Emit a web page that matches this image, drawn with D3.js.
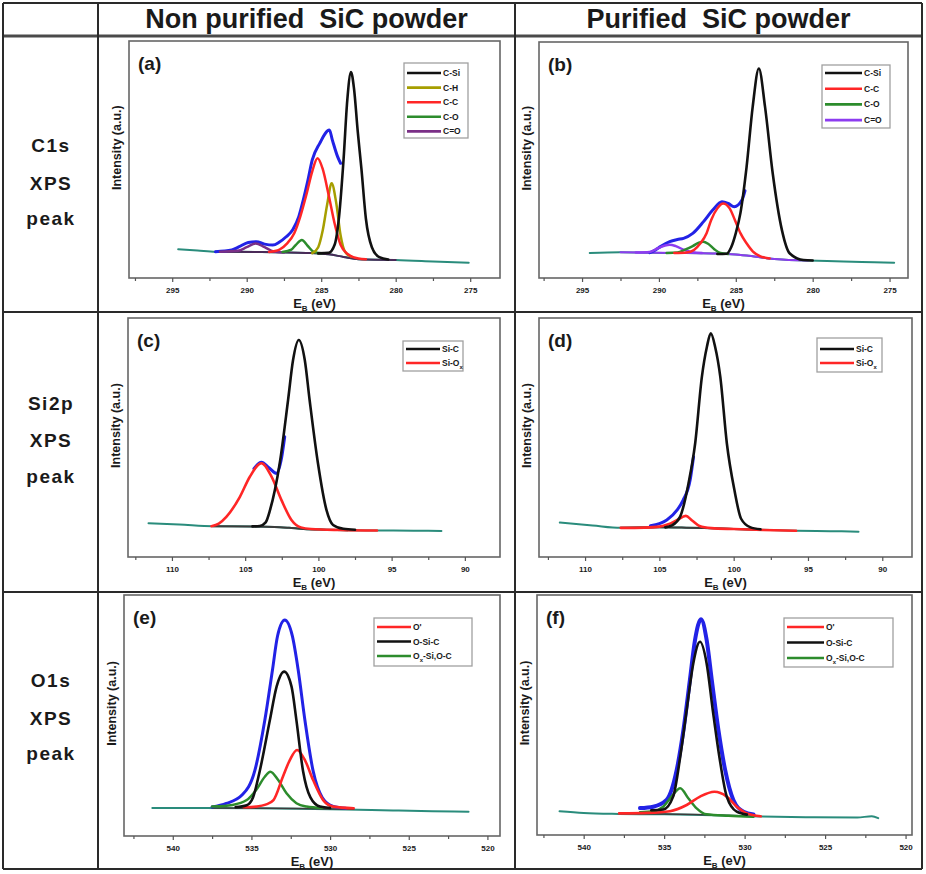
<!DOCTYPE html>
<html><head><meta charset="utf-8">
<script src="https://cdn.jsdelivr.net/npm/d3@7"></script>
<style>
body{margin:0;background:#fff}
svg{display:block}
text{font-family:Arial,"Liberation Sans",sans-serif;font-weight:bold;fill:#1a1a1a}
</style>
</head><body>
<svg id="chart" width="926" height="874"></svg>
<script>
// ---------------- DATA ----------------
const columnTitles = ["Non purified  SiC powder", "Purified  SiC powder"];
const rowTitles = [["C1s","XPS","peak"],["Si2p","XPS","peak"],["O1s","XPS","peak"]];
const panelLabels = ["(a)","(b)","(c)","(d)","(e)","(f)"];
const yAxisTitle = "Intensity (a.u.)";
const c1sTicks = [295,290,285,280,275];
const si2pTicks = [110,105,100,95,90];
const o1sTicks = [540,535,530,525,520];
const c1sLegendA = ["C-Si","C-H","C-C","C-O","C=O"];
const c1sLegendB = ["C-Si","C-C","C-O","C=O"];
const si2pLegend = ["Si-C","Si-O_x"];
const o1sLegend = ["O'","O-Si-C","O_x-Si,O-C"];

// [binding energy (eV), intensity (a.u., 0-100 of plot height)]
const a_teal = [[294.6,12.1],[293.3,11.6],[292.1,11.1],[289,11],[286,10.6],[284.5,10],[283.5,8.9],[282.5,7.9],[280,7.6],[277.5,7.0],[275.1,6.4]];
const a_bg   = [[292.1,11.1],[289,11],[286,10.6],[284.5,10],[283.5,8.9],[282.5,7.9],[280,7.6]];
const a_raw  = [[292.1,11.1],[291,11.8],[290.5,13.2],[289.9,15],[289.35,15.3],[288.8,14.3],[288.25,13.9],[287.8,15.2],[287.35,17.4],[286.9,20.5],[286.5,26],[286.2,33],[285.9,41],[285.6,49.8],[285.1,56.8],[284.45,62.4],[284.25,58.2],[283.9,51.2],[283.7,48.4]];
const a_CSi  = [[285.2,10.4],[284.5,10.6],[284.1,14],[283.8,26],[283.5,50],[283.25,75],[283.0,86.9],[282.8,80],[282.55,62],[282.3,46],[282.0,25],[281.6,13],[281.1,8.8],[280.5,7.8]];
const a_CH   = [[285.6,10.5],[285.2,13],[284.9,20],[284.6,31],[284.3,40],[284.0,32],[283.7,18],[283.4,11],[283.0,9]];
const a_CC   = [[288.5,11],[287.8,12],[287.3,14.5],[286.8,19],[286.4,26],[286.0,35],[285.6,45],[285.25,50.5],[284.9,46],[284.5,35],[284.1,23],[283.7,14],[283.2,10],[282.5,8.2],[282.0,7.9]];
const a_CO   = [[287.6,11],[287.0,12],[286.7,14],[286.3,16],[285.9,13.5],[285.5,11],[285.0,10.4]];
const a_CdO  = [[291.8,11.1],[290.6,11.5],[290.0,13],[289.4,14.6],[288.8,13],[288.2,11.2],[287.5,10.8]];

const b_teal = [[294.5,10.6],[292.5,10.9],[290.6,10.7],[289,10.6],[286.5,10.4],[285,10],[284,9.3],[283,8.4],[282,7.8],[281,7.5],[280.3,7.4],[278,7],[276,6.7],[274.7,6.5]];
const b_bg   = [[292.5,10.9],[289,10.6],[286.5,10.4],[285,10],[284,9.3],[283,8.4],[282,7.8],[281,7.5],[280.3,7.4]];
const b_raw  = [[290.6,10.7],[290.2,12],[289.9,13.3],[289.3,15.4],[288.8,16.3],[288.4,16.8],[287.8,18.9],[287.1,23.9],[286.5,28.8],[285.9,32.3],[285.5,31.6],[285.1,30.2],[284.6,33],[284.4,37]];
const b_CSi  = [[286.2,10.2],[285.6,10.3],[285.3,13],[285.0,19],[284.7,27.5],[284.3,47],[283.9,72.6],[283.5,88.8],[283.1,72.6],[282.6,44.4],[282.0,20.3],[281.5,10.5],[280.6,7.6],[280,7.4]];
const b_CC   = [[289,10.6],[288.2,10.8],[287.7,12],[287.3,14.7],[286.9,19],[286.6,24.6],[286.2,29.5],[285.82,31.6],[285.4,29.5],[285.06,24.6],[284.7,19],[284.3,14.7],[283.9,11.3],[283.4,9.2],[282.8,8.3]];
const b_CO   = [[289.5,10.6],[288.8,10.8],[288.3,12],[287.8,13.5],[287.4,15],[287.1,15.4],[286.8,14.5],[286.4,12.2],[286.0,10.6],[285.5,10.2]];
const b_CdO  = [[291.5,10.8],[290.6,11],[290.1,12.5],[289.6,13.8],[289.3,14.1],[288.9,13.5],[288.4,12],[287.8,10.9],[287.2,10.6]];

const c_teal = [[111.6,14.1],[109.5,13.6],[107.2,12.9],[104.5,12.8],[103,12.6],[102,12.2],[101,11.7],[99.5,11.4],[98,11.2],[96,11.1],[93.5,11.0],[91.6,10.9]];
const c_bg   = [[107.2,12.9],[104.5,12.8],[103,12.6],[102,12.2],[101,11.7],[99.5,11.4],[98,11.2]];
const c_raw  = [[104.4,37],[103.89,39.6],[103.4,37.5],[102.86,35],[102.5,42],[102.3,50.3]];
const c_SiC  = [[104.5,12.8],[104,13],[103.6,14.5],[103.3,19.7],[102.64,39.2],[102.07,65.7],[101.73,82.4],[101.34,90.8],[100.93,82.4],[100.6,65.7],[100.03,39.2],[99.45,19.7],[99.0,13.4],[98.3,11.8],[97.5,11.4]];
const c_SiOx = [[107.3,12.9],[106.8,14],[106.27,16.9],[105.36,25.2],[104.68,33.6],[103.89,39.2],[103.2,33.6],[102.52,23.8],[101.84,15.5],[101.2,12.4],[100.5,11.7],[98.5,11.3],[96,11.1]];

const d_teal = [[111.7,14.4],[109.5,13.2],[107.6,12.2],[105,12.4],[103.5,12.3],[102,12.1],[100,11.7],[98.2,11.4],[95.8,11],[93.5,10.8],[91.6,10.6]];
const d_bg   = [[107.6,12.2],[105,12.4],[103.5,12.3],[102,12.1],[100,11.7],[98.2,11.4]];
const d_raw  = [[105.6,13.1],[105,14],[104.5,15.5],[103.8,19.7],[103.4,23.8],[102.93,32.2],[102.7,42]];
const d_SiC  = [[104.6,12.4],[104.16,13.2],[103.6,16.9],[103.04,30.8],[102.59,47.6],[102.14,75.4],[101.8,88],[101.54,93.6],[101.25,88],[100.9,75.4],[100.46,47.6],[99.95,28],[99.5,16],[98.9,12.5],[98.2,11.6]];
const d_SiOx = [[107.6,12.2],[106,12.3],[105,12.7],[104.4,13.7],[103.8,15.5],[103.22,17.2],[102.8,15.3],[102.3,13],[101.5,12.1],[100,11.7],[98,11.3],[95.8,11]];

const e_teal = [[541.3,11.6],[538,11.6],[535,11.5],[532,11.3],[529,11],[526,10.6],[523.5,10.3],[521.2,10.1]];
const e_bg   = [[537.5,11.6],[534,11.5],[531,11.3],[528.5,11.1]];
const e_raw  = [[537.5,12],[536.6,13.5],[535.6,17],[534.79,27],[534.15,48],[533.66,69],[533.34,83],[532.88,89.6],[532.4,83],[532.03,69],[531.6,48],[531.08,27],[530.5,16],[529.8,12.3],[529,11.5]];
const e_OSiC = [[536,12],[535.3,12.8],[534.9,16],[534.47,27],[533.83,48],[533.4,62],[532.92,68.2],[532.45,62],[532.14,48],[531.72,27],[531.25,16],[530.65,12.2],[530,11.6]];
const e_Op   = [[535.5,11.9],[534.7,12.2],[534.1,13],[533.6,14.9],[533.0,24.6],[532.56,31.5],[532.1,35.7],[531.6,31.5],[531.08,23.2],[530.44,14.9],[529.8,12.2],[528.5,11.5]];
const e_OxSi = [[537.5,12.2],[536.2,12.9],[535.3,14.9],[534.7,19.1],[534.15,24.6],[533.8,26.7],[533.3,23.2],[532.77,17.7],[532.14,13.6],[531.5,12.2],[530.5,11.6]];

const f_teal = [[541.5,9.9],[540,9.2],[537.8,8.8],[535,8.6],[532,8.2],[529,7.7],[526,7.4],[523,7.3],[522.1,7.8],[521.7,7.0]];
const f_bg   = [[537.8,9],[535,8.8],[532,8.3],[529,7.8]];
const f_raw  = [[536.5,11.2],[535.68,11.8],[534.85,14.6],[534.22,27.1],[533.8,43.8],[533.4,64.6],[533.08,81.3],[532.71,89.9],[532.36,81.3],[532.04,64.6],[531.63,43.8],[531.21,27.1],[530.7,14.6],[530.07,9.7],[529.45,8.5]];
const f_OSiC = [[535.8,10.3],[535.06,10.6],[534.44,16],[534.0,32.6],[533.6,52.1],[533.19,71.5],[532.77,80.5],[532.36,71.5],[531.98,52.1],[531.57,32.6],[531.11,16],[530.49,9.7],[529.86,8.5]];
const f_Op   = [[537.8,9],[536,9.2],[534.64,9.9],[533.6,12.5],[532.77,16],[531.88,18],[531.11,16],[530.49,11.8],[529.86,9],[529.0,7.8]];
const f_OxSi = [[536.5,9.5],[535.68,9.9],[535.06,11.8],[534.54,16],[534.0,19.5],[533.5,15.3],[532.98,11.1],[532.36,8.6],[531,8],[529.45,7.6]];

// ---------------- STYLE / LAYOUT ----------------
const C = {teal:"#2a8c7c", blue:"#2222e6", black:"#111111", red:"#ff2626", olive:"#a69e00",
           green:"#2c8c2c", purpleA:"#7a2f86", purpleB:"#8d3cf0", bgA:"#4a2a58", bg:"#3c3c3c"};

const layout = {
  a:{x0:129,y0:41,x1:500,y1:278,dom:[297.9,273],  leg:{x:404,top:63, w:64, h:75,first:73, dy:14.6,line:34}},
  b:{x0:539,y0:42,x1:908,y1:278,dom:[297.8,273.8],leg:{x:822,top:65, w:68, h:63,first:73, dy:15.7,line:37}},
  c:{x0:128,y0:318,x1:500,y1:557,dom:[113,87.6],  leg:{x:403,top:341,w:60, h:30,first:349,dy:14,  line:34}},
  d:{x0:539,y0:318,x1:912,y1:557,dom:[113.1,88],  leg:{x:817,top:338,w:65, h:34,first:349,dy:14,  line:34}},
  e:{x0:124,y0:595,x1:500,y1:836,dom:[543.1,519.2],leg:{x:374,top:618,w:98,h:48,first:627,dy:14.5,line:34}},
  f:{x0:537,y0:595,x1:912,y1:835,dom:[542.9,519.6],leg:{x:784,top:618,w:109,h:49,first:627,dy:15.5,line:37}}
};

const panels = [
  {key:"a", label:panelLabels[0], ticks:c1sTicks,
   layers:[[a_teal,C.teal,2],[a_bg,C.bgA,2],[a_raw,C.blue,3],[a_CdO,C.purpleA,2.5],[a_CO,C.green,2.5],[a_CH,C.olive,2.5],[a_CC,C.red,2.5],[a_CSi,C.black,2.6]],
   legend:c1sLegendA, legColors:[C.black,C.olive,C.red,C.green,C.purpleA]},
  {key:"b", label:panelLabels[1], ticks:c1sTicks,
   layers:[[b_teal,C.teal,2],[b_bg,C.purpleB,2],[b_raw,C.blue,3],[b_CdO,C.purpleB,2.5],[b_CO,C.green,2.5],[b_CC,C.red,2.5],[b_CSi,C.black,2.6]],
   legend:c1sLegendB, legColors:[C.black,C.red,C.green,C.purpleB]},
  {key:"c", label:panelLabels[2], ticks:si2pTicks,
   layers:[[c_teal,C.teal,2],[c_bg,C.bg,2],[c_raw,C.blue,3],[c_SiOx,C.red,2.6],[c_SiC,C.black,2.6]],
   legend:si2pLegend, legColors:[C.black,C.red]},
  {key:"d", label:panelLabels[3], ticks:si2pTicks,
   layers:[[d_teal,C.teal,2],[d_bg,C.bg,2],[d_raw,C.blue,3],[d_SiOx,C.red,2.6],[d_SiC,C.black,2.6]],
   legend:si2pLegend, legColors:[C.black,C.red]},
  {key:"e", label:panelLabels[4], ticks:o1sTicks,
   layers:[[e_teal,C.teal,2],[e_bg,C.bg,1.5],[e_raw,C.blue,3],[e_OxSi,C.green,2.5],[e_Op,C.red,2.6],[e_OSiC,C.black,2.6]],
   legend:o1sLegend, legColors:[C.red,C.black,C.green]},
  {key:"f", label:panelLabels[5], ticks:o1sTicks,
   layers:[[f_teal,C.teal,2],[f_bg,C.bg,1.5],[f_raw,C.blue,4],[f_OxSi,C.green,2.5],[f_Op,C.red,2.6],[f_OSiC,C.black,2.6]],
   legend:o1sLegend, legColors:[C.red,C.black,C.green]}
];

// ---------------- DRAW ----------------
const svg = d3.select("#chart");
svg.append("rect").attr("width",926).attr("height",874).attr("fill","#fff");

function addSubText(sel, str){
  const parts = str.split("_x");
  parts.forEach((p,i)=>{
    if(p.length) sel.append("tspan").text(p);
    if(i<parts.length-1) sel.append("tspan").attr("baseline-shift","sub").attr("font-size","0.7em").text("x");
  });
}

// table grid
const gridH = [3,36,312,592,869];
const gridV = [3,98,515,922];
const grid = svg.append("g");
gridH.forEach((yy,i)=>grid.append("line").attr("x1",3).attr("x2",922).attr("y1",yy).attr("y2",yy)
  .attr("stroke", i===1?"#4a4a4a":"#2a2a2a").attr("stroke-width", i===1?3:2));
gridV.forEach(xx=>grid.append("line").attr("x1",xx).attr("x2",xx).attr("y1",3).attr("y2",869)
  .attr("stroke","#2a2a2a").attr("stroke-width",2));

// column headers
[306.5,718.5].forEach((cx,i)=>svg.append("text").attr("x",cx).attr("y",28).attr("text-anchor","middle")
  .attr("font-size",27).style("white-space","pre").text(columnTitles[i]));

// row headers
const rowBaselines = [[152,190,225],[410,447,483],[687,725,760]];
rowTitles.forEach((r,i)=>r.forEach((t,j)=>svg.append("text").attr("x",51).attr("y",rowBaselines[i][j])
  .attr("text-anchor","middle").attr("font-size",19).attr("letter-spacing",1.5).text(t)));

panels.forEach(p=>{
  const L = layout[p.key];
  const x = d3.scaleLinear().domain(L.dom).range([L.x0,L.x1]);
  const y = d3.scaleLinear().domain([0,100]).range([L.y1,L.y0]);
  const g = svg.append("g");

  g.append("rect").attr("x",L.x0).attr("y",L.y0).attr("width",L.x1-L.x0).attr("height",L.y1-L.y0)
    .attr("fill","#fff").attr("stroke","#666").attr("stroke-width",1.6);

  const lo = Math.min(...L.dom), hi = Math.max(...L.dom);
  const minor = [];
  p.ticks.forEach(t=>{[t+2.5,t-2.5].forEach(m=>{ if(m>lo&&m<hi&&!p.ticks.includes(m)&&!minor.includes(m)) minor.push(m); });});
  g.append("g").attr("transform",`translate(0,${L.y1})`)
    .call(d3.axisBottom(x).tickValues(minor).tickSize(3).tickFormat(""))
    .call(s=>s.select(".domain").remove())
    .call(s=>s.selectAll("line").attr("stroke","#555").attr("stroke-width",1.2));
  g.append("g").attr("transform",`translate(0,${L.y1})`)
    .call(d3.axisBottom(x).tickValues(p.ticks).tickSize(4).tickPadding(5).tickFormat(d3.format("d")))
    .call(s=>s.select(".domain").remove())
    .call(s=>s.selectAll("line").attr("stroke","#555").attr("stroke-width",1.2))
    .call(s=>s.selectAll("text").attr("font-size",8).attr("font-family","Arial, 'Liberation Sans', sans-serif")
      .attr("font-weight","bold").attr("fill","#444"));

  const xt = g.append("text").attr("x",(L.x0+L.x1)/2).attr("y",L.y1+30).attr("text-anchor","middle").attr("font-size",13);
  xt.append("tspan").text("E");
  xt.append("tspan").attr("font-size",8).attr("dy",3).text("B");
  xt.append("tspan").attr("dy",-3).text(" (eV)");
  g.append("text").attr("transform",`translate(${L.x0-8},${L.y0+0.45*(L.y1-L.y0)}) rotate(-90)`)
    .attr("text-anchor","middle").attr("font-size",12.5).text(yAxisTitle);

  const line = d3.line().x(d=>x(d[0])).y(d=>y(d[1])).curve(d3.curveMonotoneX);
  p.layers.forEach(([data,color,w])=>{
    g.append("path").attr("d",line(data)).attr("fill","none").attr("stroke",color)
      .attr("stroke-width",w).attr("stroke-linejoin","round").attr("stroke-linecap","round");
  });

  g.append("text").attr("x",L.x0+9).attr("y",L.y0+29).attr("font-size",19).text(p.label);

  const lg = L.leg;
  g.append("rect").attr("x",lg.x).attr("y",lg.top).attr("width",lg.w).attr("height",lg.h)
    .attr("fill","#fff").attr("stroke","#a0a0a0").attr("stroke-width",1.3);
  p.legend.forEach((name,i)=>{
    const ey = lg.first + i*lg.dy;
    g.append("line").attr("x1",lg.x+3).attr("x2",lg.x+3+lg.line).attr("y1",ey).attr("y2",ey)
      .attr("stroke",p.legColors[i]).attr("stroke-width",2.6);
    const t = g.append("text").attr("x",lg.x+5+lg.line).attr("y",ey+3).attr("font-size",8.5).attr("fill","#333");
    addSubText(t,name);
  });
});
</script>
</body></html>
